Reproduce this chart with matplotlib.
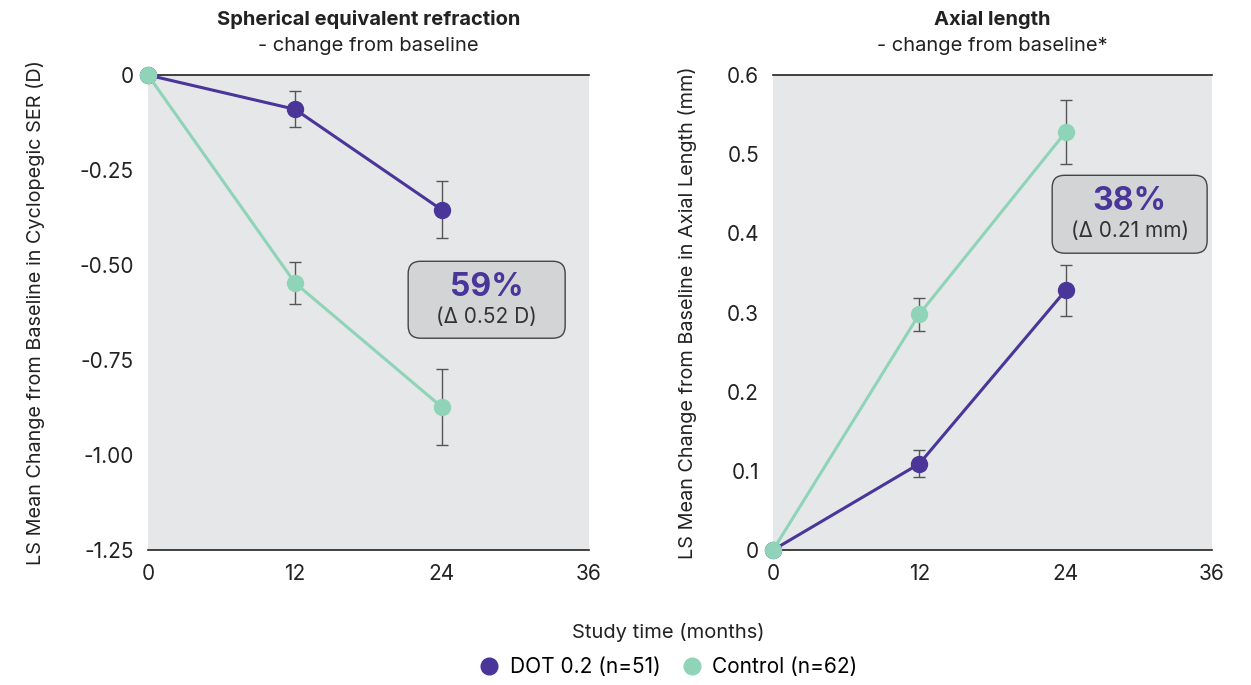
import matplotlib.pyplot as plt
from matplotlib.patches import FancyBboxPatch
from matplotlib.lines import Line2D

plt.rcParams['font.family'] = ['Inter', 'DejaVu Sans']

PURPLE = "#4a3599"
MINT = "#8fd4b8"
BG = "#e6e7e9"
BOX = "#d3d4d6"
ERR = "#555555"

months = [0, 12, 24]

# Spherical equivalent refraction (D)
ser_dot = [0, -0.09, -0.355]
ser_dot_err = [0, 0.047, 0.075]
ser_ctrl = [0, -0.547, -0.874]
ser_ctrl_err = [0, 0.055, 0.10]

# Axial length (mm)
al_dot = [0, 0.109, 0.328]
al_dot_err = [0, 0.017, 0.032]
al_ctrl = [0, 0.298, 0.528]
al_ctrl_err = [0, 0.021, 0.040]

ser_ticks = [0, -0.25, -0.5, -0.75, -1.0, -1.25]
ser_ticklabels = ["0", "-0.25", "-0.50", "-0.75", "-1.00", "-1.25"]
al_ticks = [0, 0.1, 0.2, 0.3, 0.4, 0.5, 0.6]
al_ticklabels = ["0", "0.1", "0.2", "0.3", "0.4", "0.5", "0.6"]
x_ticks = [0, 12, 24, 36]

fig = plt.figure(figsize=(12.51, 6.85), dpi=100)
ax1 = fig.add_axes([0.1183, 0.197, 0.3525, 0.6934])
ax2 = fig.add_axes([0.6179, 0.197, 0.3509, 0.6934])


def draw_series(ax, y, err, color):
    ax.errorbar(months[1:], y[1:], yerr=err[1:], fmt="none", ecolor=ERR,
                elinewidth=1, capsize=4, capthick=1, zorder=3)
    ax.plot(months, y, color=color, lw=2.2, marker="o", markersize=11.5,
            zorder=4, clip_on=False)


def style(ax):
    ax.set_facecolor(BG)
    ax.set_xlim(0, 36)
    ax.set_xticks(x_ticks)
    ax.set_xticklabels([str(t) for t in x_ticks])
    for s in ["left", "right"]:
        ax.spines[s].set_visible(False)
    for s in ["top", "bottom"]:
        ax.spines[s].set_color("#222222")
        ax.spines[s].set_linewidth(1.2)
    ax.tick_params(length=0, labelsize=15, labelcolor="#222222", pad=10)


def add_box(ax, x0, y0, w, h, big, small):
    # box in axes coordinates, aspect fixed so the corners stay round
    bb = ax.get_position()
    aspect = (bb.width * 12.51) / (bb.height * 6.85)
    box = FancyBboxPatch((x0, y0), w, h, transform=ax.transAxes,
                         boxstyle="round,pad=0,rounding_size=0.028",
                         mutation_aspect=aspect,
                         facecolor=BOX, edgecolor="#444444", lw=1.0, zorder=5)
    ax.add_patch(box)
    cx = x0 + w / 2
    ax.text(cx, y0 + h * 0.66, big, transform=ax.transAxes, ha="center",
            va="center", fontsize=23, fontweight="bold", color=PURPLE, zorder=6)
    ax.text(cx, y0 + h * 0.28, small, transform=ax.transAxes, ha="center",
            va="center", fontsize=15, color="#333333", zorder=6)


def titles(ax, bold, sub):
    ax.text(0.5, 1.116, bold, transform=ax.transAxes, ha="center",
            va="center", fontsize=14.5, fontweight="bold", color="#222222")
    ax.text(0.5, 1.062, sub, transform=ax.transAxes, ha="center",
            va="center", fontsize=14.5, color="#222222")


# Left panel
style(ax1)
ax1.set_ylim(-1.25, 0)
ax1.set_yticks(ser_ticks)
ax1.set_yticklabels(ser_ticklabels)
draw_series(ax1, ser_dot, ser_dot_err, PURPLE)
draw_series(ax1, ser_ctrl, ser_ctrl_err, MINT)
ax1.set_ylabel("LS Mean Change from Baseline in Cyclopegic SER (D)",
               fontsize=14.3, color="#222222")
ax1.yaxis.set_label_coords(-0.234, 0.5)
titles(ax1, "Spherical equivalent refraction", "- change from baseline")
add_box(ax1, 0.590, 0.446, 0.356, 0.162, "59%", "(\u0394 0.52 D)")

# Right panel
style(ax2)
ax2.set_ylim(0, 0.6)
ax2.set_yticks(al_ticks)
ax2.set_yticklabels(al_ticklabels)
draw_series(ax2, al_dot, al_dot_err, PURPLE)
draw_series(ax2, al_ctrl, al_ctrl_err, MINT)
ax2.set_ylabel("LS Mean Change from Baseline in Axial Length (mm)",
               fontsize=14.3, color="#222222")
ax2.yaxis.set_label_coords(-0.172, 0.5)
titles(ax2, "Axial length", "- change from baseline*")
add_box(ax2, 0.636, 0.625, 0.353, 0.164, "38%", "(\u0394 0.21 mm)")

fig.text(0.534, 0.076, "Study time (months)", ha="center", va="center",
         fontsize=14.5, color="#222222")
handles = [
    Line2D([], [], ls="none", marker="o", markersize=12, color=PURPLE),
    Line2D([], [], ls="none", marker="o", markersize=12, color=MINT),
]
fig.legend(handles, ["DOT 0.2 (n=51)", "Control (n=62)"], loc="center",
           bbox_to_anchor=(0.534, 0.026), ncol=2, frameon=False,
           fontsize=15, handlelength=1.0, handletextpad=0.5,
           columnspacing=1.0)

fig.savefig("out.png", dpi=100)
